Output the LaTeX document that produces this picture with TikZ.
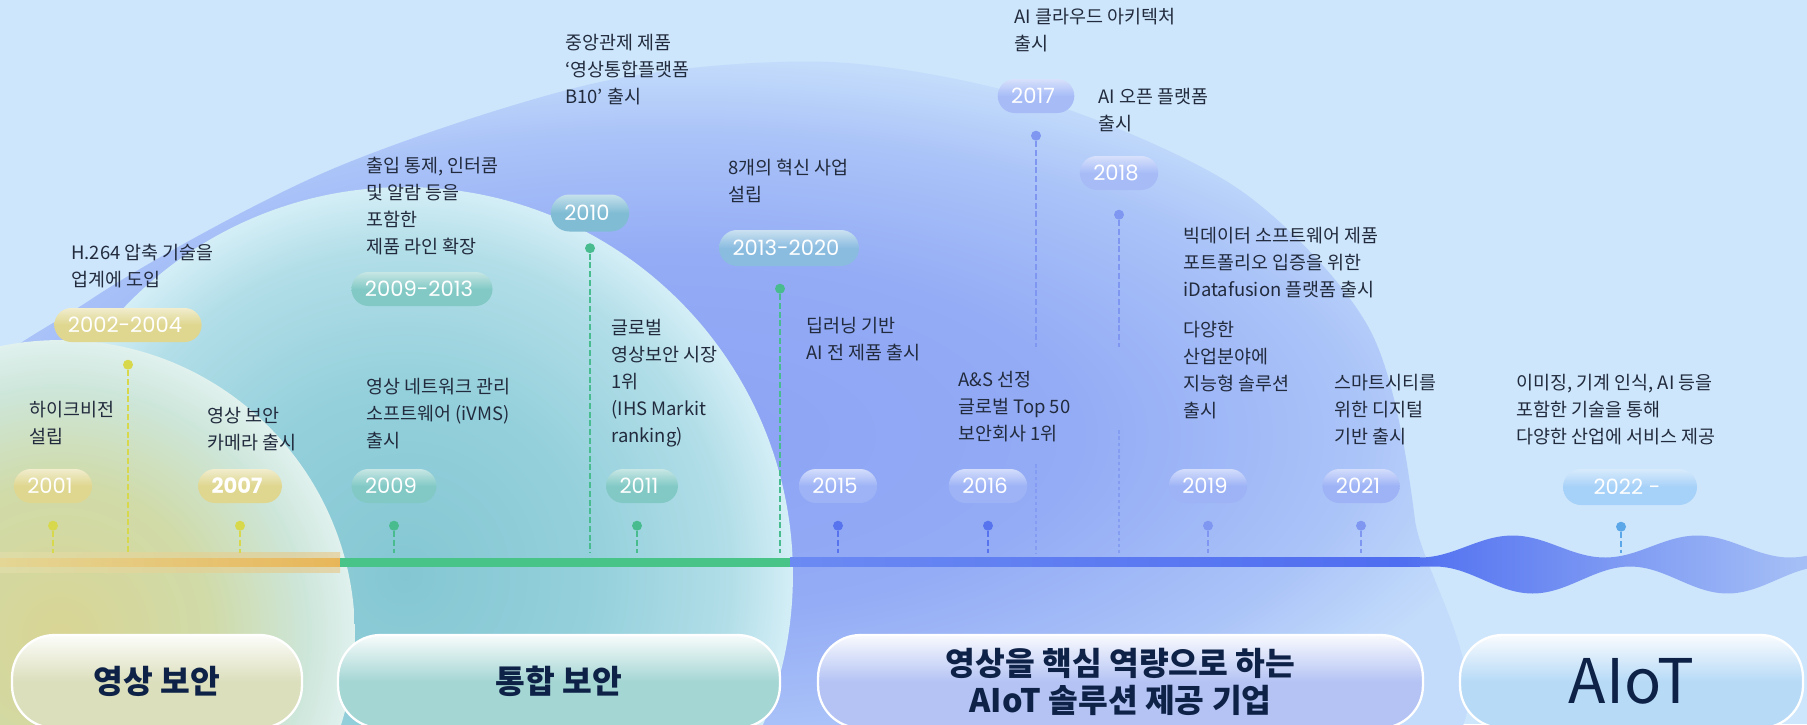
\documentclass[tikz,border=0pt]{standalone}
\usepackage{fontspec}
\setmainfont{Noto Sans CJK KR}
\newfontfamily\yearfont{Poppins}
\usetikzlibrary{positioning}

\definecolor{ink}{HTML}{222B3D}
\definecolor{navy}{HTML}{0E2247}
\definecolor{skybg}{HTML}{CDE6FC}
% backdrop bubbles
\definecolor{blobA}{HTML}{8BA3F4}
\definecolor{blobB}{HTML}{94ACF5}
\definecolor{blobC}{HTML}{AAC3F8}
\definecolor{blobD}{HTML}{C3DCFB}
\definecolor{tealA}{HTML}{84C7D3}
\definecolor{tealB}{HTML}{94D0DB}
\definecolor{tealC}{HTML}{B2DEE8}
\definecolor{tealD}{HTML}{D4EEF6}
\definecolor{ylwA}{HTML}{D9D594}
\definecolor{ylwB}{HTML}{D0DBA9}
\definecolor{ylwC}{HTML}{CDE6DA}
\definecolor{ylwD}{HTML}{E0F1EE}
% timeline
\definecolor{ambA}{HTML}{E6E0AE}
\definecolor{ambB}{HTML}{EBC27A}
\definecolor{ambC}{HTML}{E4D695}
\definecolor{ambD}{HTML}{E8B659}
\definecolor{lineG}{HTML}{48C489}
\definecolor{lineB1}{HTML}{6B8AF2}
\definecolor{lineB2}{HTML}{4E6CF0}
\definecolor{waveA}{HTML}{4F6EF0}
\definecolor{waveB}{HTML}{A6C0F6}
% pills and pins
\definecolor{ylwpill}{HTML}{DFD68F}
\definecolor{tealpill}{HTML}{82C9C5}
\definecolor{tealblue}{HTML}{80BCD4}
\definecolor{steelpill}{HTML}{8ABCE0}
\definecolor{bluepill}{HTML}{9DB3F6}
\definecolor{palepill}{HTML}{A7BCF7}
\definecolor{skypill}{HTML}{A6D1F8}
\definecolor{ylwdot}{HTML}{D8D84C}
\definecolor{grndot}{HTML}{49BC8F}
\definecolor{bluedot}{HTML}{5773EE}
\definecolor{lbluedot}{HTML}{7F97F0}
\definecolor{skydot}{HTML}{5CA7E8}
% stage boxes
\definecolor{stgY}{HTML}{DCDFBC}
\definecolor{stgT}{HTML}{A4D6D4}
\definecolor{stgB}{HTML}{B4C3F4}
\definecolor{stgS}{HTML}{B7DAF7}

\pgfdeclareradialshading{blobshade}{\pgfpoint{0bp}{0bp}}{color(0bp)=(blobA); color(12bp)=(blobB); color(20bp)=(blobC); color(25bp)=(blobD); color(50bp)=(blobD)}
\pgfdeclareradialshading{tealshade}{\pgfpoint{0bp}{0bp}}{color(0bp)=(tealA); color(12bp)=(tealB); color(21bp)=(tealC); color(25bp)=(tealD); color(50bp)=(tealD)}
\pgfdeclareradialshading{ylwshade}{\pgfpoint{0bp}{0bp}}{color(0bp)=(ylwA); color(13bp)=(ylwB); color(21bp)=(ylwC); color(25bp)=(ylwD); color(50bp)=(ylwD)}

\tikzset{
  pill/.style={rounded corners=0.34cm, minimum height=0.68cm, inner xsep=0.27cm, inner ysep=0pt,
    text=white, font=\yearfont\fontsize{12}{14}\selectfont,
    top color=#1!45!white, bottom color=#1, middle color=#1,
    execute at end node={\hspace*{0.12cm}}},
  pindot/.style={circle, fill=#1, minimum size=0.2cm, inner sep=0pt},
  stem/.style={draw=#1, line width=1.1pt, dash pattern=on 3.4pt off 1.6pt},
  faintstem/.style={draw=#1, line width=0.6pt, dash pattern=on 2pt off 1.6pt, opacity=0.75},
  note/.style={anchor=north west, align=left, inner sep=0pt, text=ink, font=\fontsize{10.5}{15.3}\selectfont},
  stage/.style={rounded corners=0.85cm, draw=white, line width=1.3pt,
    top color=white!92!#1, bottom color=#1, middle color=#1,
    minimum height=1.86cm, text=navy, align=center,
    font=\bfseries\fontsize{18.4}{21}\selectfont}
}

\begin{document}
\begin{tikzpicture}[x=0.02cm, y=-0.02cm]
\useasboundingbox (0,0) rectangle (1807,724);
\clip (0,0) rectangle (1807,724);

% Backdrop
\fill[skybg] (0,0) rectangle (1807,724);
\shade[shading=blobshade] plot[smooth cycle] coordinates {(-80,760) (-60,430) (90,300) (330,170) (600,82) (830,62) (1040,100) (1240,190) (1370,330) (1415,520) (1425,760) (700,800)};
\shade[shading=tealshade] (405,575) circle (7.76cm);
\shade[shading=ylwshade] (60,635) circle (5.9cm);

% Timeline
\coordinate (axis) at (0,553);
\shade[left color=ambA, right color=ambB, opacity=0.55] (0,552) rectangle (340,572);
\shade[left color=ambC, right color=ambD] (0,558) rectangle (340,566);
\fill[lineG] (340,557.5) rectangle (790,566.5);
\shade[left color=lineB1, right color=lineB2] (790,557.5) rectangle (1420,566.5);
\shade[left color=waveA, right color=waveB]
  plot[domain=1400:1807, samples=90] (\x, {557.5 - (\x>1420)*22*sin((\x-1420)/185*180)^2})
  -- plot[domain=1807:1400, samples=90] (\x, {566.5 + (\x>1435)*27*sin((\x-1435)/195*180)^2})
  -- cycle;

% Year pills
\node[pill=ylwpill] (p2001) at (53,486) {2001};
\node[pill=ylwpill] (p2002) at (128,325) {2002-2004};
\node[pill=ylwpill, font=\yearfont\bfseries\fontsize{12}{14}\selectfont] (p2007) at (240,486) {2007};
\node[pill=tealpill] (p2009) at (394,486) {2009};
\node[pill=tealpill] (p0913) at (422,289) {2009-2013};
\node[pill=tealblue, minimum height=0.74cm, rounded corners=0.37cm] (p2010) at (590,213) {2010};
\node[pill=tealpill] (p2011) at (642,486) {2011};
\node[pill=steelpill, minimum height=0.72cm, rounded corners=0.36cm] (p1320) at (789,248) {2013-2020};
\node[pill=bluepill] (p2015) at (838,486) {2015};
\node[pill=bluepill] (p2016) at (988,486) {2016};
\node[pill=palepill] (p2017) at (1036,96) {2017};
\node[pill=palepill] (p2018) at (1119,173) {2018};
\node[pill=bluepill] (p2019) at (1208,486) {2019};
\node[pill=bluepill] (p2021) at (1361,486) {2021};
\node[pill=skypill, minimum width=2.68cm, minimum height=0.72cm, rounded corners=0.36cm] (p2022) at (1630,487) {2022 -};

% Pins
\foreach \p/\col in {2001/ylwdot,2007/ylwdot,2009/grndot,2015/bluedot,2016/bluedot,2019/lbluedot,2021/lbluedot}{
  \node[pindot=\col, below=0.34cm of p\p] (d\p) {};
  \coordinate (t\p) at (d\p |- axis);
  \draw[stem=\col] (d\p) -- (t\p);
}
\node[pindot=grndot, below=0.34cm of p2011, xshift=-0.1cm] (d2011) {};
\coordinate (t2011) at (d2011 |- axis);
\draw[stem=grndot] (d2011) -- (t2011);
\node[pindot=skydot, below=0.32cm of p2022, xshift=-0.18cm] (d2022) {};
\coordinate (t2022) at (d2022 |- axis);
\draw[stem=skydot] (d2022) -- (t2022);

\node[pindot=ylwdot, below=0.34cm of p2002] (d2002) {};
\coordinate (t2002) at (d2002 |- axis);
\draw[stem=ylwdot] (d2002) -- (t2002);
\node[pindot=grndot, below=0.22cm of p2010] (d2010) {};
\coordinate (t2010) at (d2010 |- axis);
\draw[stem=grndot] (d2010) -- (t2010);
\node[pindot=grndot, below=0.34cm of p1320, xshift=-0.18cm] (d1320) {};
\coordinate (t1320) at (d1320 |- axis);
\draw[stem=grndot] (d1320) -- (t1320);

\node[pindot=lbluedot, below=0.34cm of p2017] (d2017) {};
\coordinate (e2017) at (d2017 |- 0,347);
\coordinate (f2017) at (d2017 |- 0,464);
\coordinate (t2017) at (d2017 |- axis);
\draw[stem=lbluedot] (d2017) -- (e2017);
\draw[faintstem=lbluedot] (f2017) -- (t2017);
\node[pindot=lbluedot, below=0.38cm of p2018] (d2018) {};
\coordinate (e2018) at (d2018 |- 0,347);
\coordinate (f2018) at (d2018 |- 0,430);
\coordinate (t2018) at (d2018 |- axis);
\draw[stem=lbluedot] (d2018) -- (e2018);
\draw[faintstem=lbluedot] (f2018) -- (t2018);

% Milestone texts
\node[note] (l2001) at (29,397.5) {\strut 하이크비전\\설립};
\node[note] (l2002) at (71,240.5) {\strut H.264 압축 기술을\\업계에 도입};
\node[note] (l2007) at (207,403.5) {\strut 영상 보안\\카메라 출시};
\node[note] (l2009) at (366,374.5) {\strut 영상 네트워크 관리\\소프트웨어 (iVMS)\\출시};
\node[note] (l0913) at (366,153.5) {\strut 출입 통제, 인터콤\\및 알람 등을\\포함한\\제품 라인 확장};
\node[note] (l2010) at (565,30.5) {\strut 중앙관제 제품\\‘영상통합플랫폼\\B10’ 출시};
\node[note] (l2011) at (611,315.5) {\strut 글로벌\\영상보안 시장\\1위\\(IHS Markit\\ranking)};
\node[note] (l1320) at (728,155.5) {\strut 8개의 혁신 사업\\설립};
\node[note] (l2015) at (806,313.5) {\strut 딥러닝 기반\\AI 전 제품 출시};
\node[note] (l2016) at (958,367.5) {\strut A\&S 선정\\글로벌 Top 50\\보안회사 1위};
\node[note] (l2017) at (1014,4.5) {\strut AI 클라우드 아키텍처\\출시};
\node[note] (l2018) at (1098,84.5) {\strut AI 오픈 플랫폼\\출시};
\node[note] (l2019a) at (1183,223.5) {\strut 빅데이터 소프트웨어 제품\\포트폴리오 입증을 위한\\iDatafusion 플랫폼 출시};
\node[note] (l2019b) at (1183,317.5) {\strut 다양한\\산업분야에\\지능형 솔루션\\출시};
\node[note] (l2021) at (1334,370.5) {\strut 스마트시티를\\위한 디지털\\기반 출시};
\node[note] (l2022) at (1516,370.5) {\strut 이미징, 기계 인식, AI 등을\\포함한 기술을 통해\\다양한 산업에 서비스 제공};

% Stages
\node[stage=stgY, minimum width=5.8cm] (s1) at (157,681.5) {영상 보안};
\node[stage=stgT, minimum width=8.84cm] (s2) at (559,681.5) {통합 보안};
\node[stage=stgB, minimum width=12.1cm] (s3) at (1120.5,681.5) {영상을 핵심 역량으로 하는\\AIoT 솔루션 제공 기업};
\node[stage=stgS, minimum width=6.86cm, font=\fontsize{35}{40}\selectfont] (s4) at (1631.5,681.5) {AIoT};

\end{tikzpicture}
\end{document}
